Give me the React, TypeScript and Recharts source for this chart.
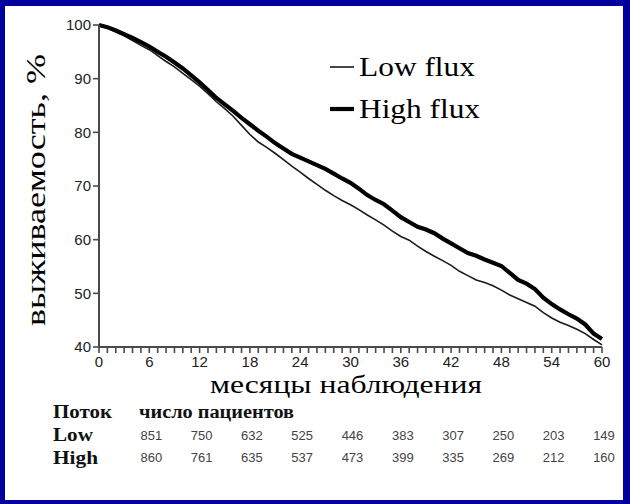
import { LineChart, Line, XAxis, YAxis } from 'recharts';

// months of follow-up
const months = [
  0, 1, 2, 3, 4, 5, 6, 7, 8, 9, 10, 11, 12, 13, 14, 15, 16, 17, 18, 19, 20,
  21, 22, 23, 24, 25, 26, 27, 28, 29, 30, 31, 32, 33, 34, 35, 36, 37, 38, 39, 40,
  41, 42, 43, 44, 45, 46, 47, 48, 49, 50, 51, 52, 53, 54, 55, 56, 57, 58, 59, 60,
];

// survival, %
const lowFlux = [
  100, 99.4, 98.7, 98.0, 97.1, 96.2, 95.4, 94.3, 93.2, 92.2, 91.0,
  89.8, 88.6, 87.2, 85.7, 84.4, 83.0, 81.3, 79.6, 78.2, 77.2,
  76.1, 74.9, 73.7, 72.6, 71.4, 70.3, 69.2, 68.2, 67.3, 66.5,
  65.6, 64.6, 63.7, 62.7, 61.6, 60.6, 59.9, 58.8, 57.8, 56.9,
  56.1, 55.2, 54.1, 53.3, 52.5, 52.0, 51.4, 50.6, 49.7, 49.0,
  48.3, 47.6, 46.4, 45.4, 44.6, 44.0, 43.3, 42.5, 41.4, 40.4,
];

const highFlux = [
  100, 99.6, 99.0, 98.3, 97.6, 96.8, 96.0, 95.0, 94.1, 93.0, 91.9,
  90.6, 89.3, 87.9, 86.4, 85.2, 84.0, 82.7, 81.5, 80.3, 79.2,
  78.0, 77.0, 76.0, 75.3, 74.6, 73.9, 73.2, 72.3, 71.4, 70.6,
  69.5, 68.3, 67.4, 66.6, 65.4, 64.2, 63.3, 62.4, 61.9, 61.2,
  60.2, 59.3, 58.4, 57.5, 57.0, 56.3, 55.7, 55.1, 53.8, 52.5,
  51.8, 50.8, 49.2, 48.0, 47.0, 46.1, 45.3, 44.2, 42.5, 41.5,
];

const xLabelTicks = [0, 6, 12, 18, 24, 30, 36, 42, 48, 54, 60];
const yTicks = [40, 50, 60, 70, 80, 90, 100];

// patients at risk
const atRiskMonths = [6, 12, 18, 24, 30, 36, 42, 48, 54, 60];
const lowAtRisk = [851, 750, 632, 525, 446, 383, 307, 250, 203, 149];
const highAtRisk = [860, 761, 635, 537, 473, 399, 335, 269, 212, 160];

const data = months.map((m, i) => ({ month: m, low: lowFlux[i], high: highFlux[i] }));

const AXIS = '#4a4a4a';
const TICK_FONT = '"Liberation Sans", Arial, sans-serif';
const SERIF = '"Liberation Serif", "Times New Roman", serif';

// x tick: minor tick line every month, label every 6, at-risk counts below
const MonthTick = ({ x, y, payload }: any) => {
  const v = payload.value;
  const k = atRiskMonths.indexOf(v);
  return (
    <g>
      <line x1={x} x2={x} y1={y - 7} y2={y - 1} stroke={AXIS} strokeWidth={1.6} />
      {xLabelTicks.includes(v) && (
        <text x={x} y={y + 13} textAnchor="middle" fontSize={15} fill="#222" fontFamily={TICK_FONT}>
          {v}
        </text>
      )}
      {k >= 0 && (
        <>
          <text x={x + 2} y={y + 86} textAnchor="middle" fontSize={13} fill="#444" fontFamily={TICK_FONT}>
            {lowAtRisk[k]}
          </text>
          <text x={x + 2} y={y + 108} textAnchor="middle" fontSize={13} fill="#444" fontFamily={TICK_FONT}>
            {highAtRisk[k]}
          </text>
        </>
      )}
    </g>
  );
};

export default function App() {
  return (
    <div style={{ position: 'absolute', left: 0, top: 0, width: 630, height: 504, background: '#00009e' }}>
      <div style={{ position: 'absolute', left: 5, top: 6, width: 618, height: 494, background: '#fff' }} />
      <div style={{ position: 'absolute', left: 0, top: 0 }}>
        <LineChart width={630} height={504} data={data} margin={{ top: 25, right: 28, bottom: 127, left: 39 }}>
          <XAxis
            dataKey="month"
            type="number"
            domain={[0, 60]}
            ticks={months}
            interval={0}
            height={30}
            axisLine={{ stroke: AXIS, strokeWidth: 2 }}
            tickLine={false}
            tickSize={5}
            tick={<MonthTick />}
          />
          <YAxis
            type="number"
            domain={[40, 100]}
            ticks={yTicks}
            interval={0}
            width={60}
            axisLine={{ stroke: AXIS, strokeWidth: 2 }}
            tickLine={{ stroke: AXIS, strokeWidth: 1.6 }}
            tickSize={6}
            tick={{ fontSize: 15, fill: '#222', fontFamily: TICK_FONT }}
          />
          <Line dataKey="low" type="linear" stroke="#1a1a1a" strokeWidth={1.6} dot={false} isAnimationActive={false} />
          <Line dataKey="high" type="linear" stroke="#000" strokeWidth={4.2} dot={false} isAnimationActive={false} />
        </LineChart>
      </div>
      <svg width={630} height={504} style={{ position: 'absolute', left: 0, top: 0, pointerEvents: 'none' }}>
        <text
          transform="translate(45, 190) rotate(-90)"
          textAnchor="middle"
          fontSize={27}
          fontFamily={SERIF}
          fill="#000"
          textLength={272}
          lengthAdjust="spacingAndGlyphs"
        >
          выживаемость, %
        </text>
        <text
          x={346}
          y={393}
          textAnchor="middle"
          fontSize={26}
          fontFamily={SERIF}
          fill="#000"
          textLength={272}
          lengthAdjust="spacingAndGlyphs"
        >
          месяцы наблюдения
        </text>

        <line x1={330} x2={354} y1={67} y2={67} stroke="#1a1a1a" strokeWidth={1.6} />
        <text x={359} y={76} fontSize={27} fontFamily={SERIF} fill="#000" textLength={116} lengthAdjust="spacingAndGlyphs">
          Low flux
        </text>
        <line x1={330} x2={354} y1={109} y2={109} stroke="#000" strokeWidth={4.2} />
        <text x={359} y={118} fontSize={27} fontFamily={SERIF} fill="#000" textLength={121} lengthAdjust="spacingAndGlyphs">
          High flux
        </text>

        <text x={53} y={418} fontSize={18} fontWeight="bold" fontFamily={SERIF} fill="#111" textLength={59} lengthAdjust="spacingAndGlyphs">
          Поток
        </text>
        <text x={139} y={418} fontSize={18} fontWeight="bold" fontFamily={SERIF} fill="#111" textLength={155} lengthAdjust="spacingAndGlyphs">
          число пациентов
        </text>
        <text x={53} y={441} fontSize={19} fontWeight="bold" fontFamily={SERIF} fill="#111" textLength={40} lengthAdjust="spacingAndGlyphs">
          Low
        </text>
        <text x={53} y={464} fontSize={19} fontWeight="bold" fontFamily={SERIF} fill="#111" textLength={45} lengthAdjust="spacingAndGlyphs">
          High
        </text>
      </svg>
    </div>
  );
}
